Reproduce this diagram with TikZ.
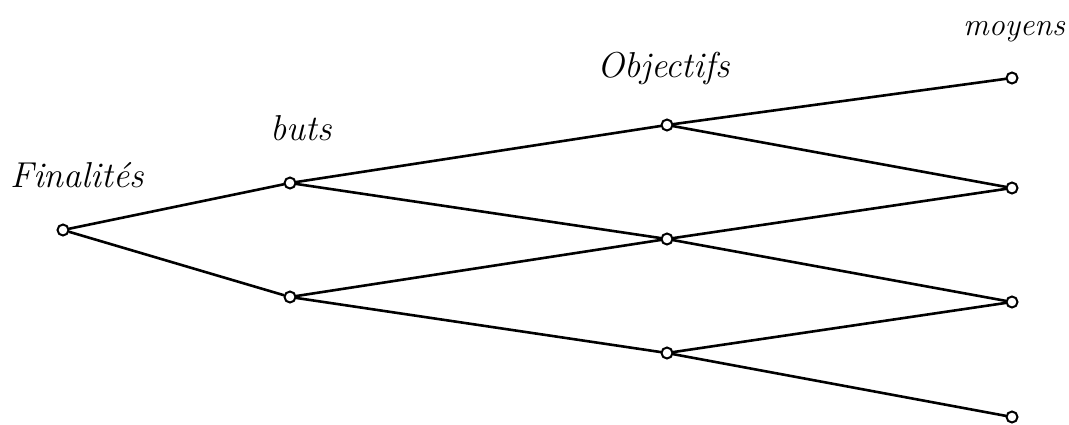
\documentclass[tikz,border=0pt]{standalone}
\usepackage{fontspec}
\begin{document}
\begin{tikzpicture}[x=1pt,y=-1pt,
  pt/.style={circle,draw,line width=2pt,fill=white,minimum size=11pt,inner sep=0pt},
  link/.style={line width=2.6pt,line cap=round},
  lbl/.style={inner sep=0pt,font=\fontsize{36}{36}\selectfont\itshape\addfontfeatures{LetterSpace=6,FakeBold=2.5}}]
\useasboundingbox (0,0) rectangle (1069,424);

% level labels
\node[lbl,anchor=base west] (lf) at (10,187) {Finalités};
\node[lbl,anchor=base west] (lb) at (270,140) {buts};
\node[lbl,anchor=base west] (lo) at (597,77) {Objectifs};
\node[lbl,anchor=base east,font=\fontsize{32}{32}\selectfont\itshape\addfontfeatures{FakeBold=2.5}] (lm) at (1065,35) {moyens};

% tree points
\node[pt] (f)  at (63,230) {};
\node[pt] (b1) at (290,183) {};
\node[pt] (b2) at (290,297) {};
\node[pt] (o1) at (667,125) {};
\node[pt] (o2) at (667,239) {};
\node[pt] (o3) at (667,353) {};
\node[pt] (m1) at (1012,78) {};
\node[pt] (m2) at (1012,188) {};
\node[pt] (m3) at (1012,302) {};
\node[pt] (m4) at (1012,417) {};

% branches
\draw[link] (f) -- (b1);
\draw[link] (f) -- (b2);
\draw[link] (b1) -- (o1);
\draw[link] (b1) -- (o2);
\draw[link] (b2) -- (o2);
\draw[link] (b2) -- (o3);
\draw[link] (o1) -- (m1);
\draw[link] (o1) -- (m2);
\draw[link] (o2) -- (m2);
\draw[link] (o2) -- (m3);
\draw[link] (o3) -- (m3);
\draw[link] (o3) -- (m4);
\end{tikzpicture}
\end{document}
